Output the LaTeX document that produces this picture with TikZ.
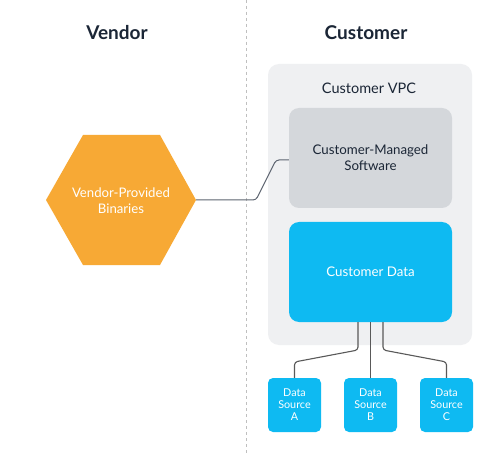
\documentclass[tikz,border=0pt]{standalone}
\usepackage{fontspec}
\setmainfont{Lato}
\begin{document}
\begin{tikzpicture}[x=1pt,y=-1pt,
  heading/.style={font=\fontsize{19}{21}\selectfont\bfseries, text=headc},
  bigbox/.style={rounded corners=10pt, minimum width=163pt, minimum height=100pt, inner sep=0pt, font=\fontsize{13.3}{16}\selectfont, align=center},
  srcbox/.style={rounded corners=5pt, fill=cdata, minimum width=53pt, minimum height=54pt, inner sep=0pt, text=white, font=\fontsize{10.8}{12}\selectfont, align=center},
  link/.style={gray!70!black, line width=1.1pt, rounded corners=3pt},
]
\definecolor{hexorange}{HTML}{F7A935}
\definecolor{cdata}{HTML}{0EBAF2}
\definecolor{vpcgray}{HTML}{EFF0F2}
\definecolor{softgray}{HTML}{D4D7DB}
\definecolor{headc}{HTML}{1B2636}
\definecolor{linec}{HTML}{5D6470}
\useasboundingbox (0,0) rectangle (500,454);
\fill[white] (0,0) rectangle (500,454);
% divider
\draw[gray!50, dashed, line width=0.8pt] (246,0) -- (246,454);
% headings
\node[heading] (hv) at (117,33) {Vendor};
\node[heading] (hc) at (366,33) {Customer};
% VPC
\node[rounded corners=11pt, fill=vpcgray, minimum width=204pt, minimum height=281pt, inner sep=0pt] (vpc) at (370,204.5) {};
\node[font=\fontsize{14.5}{16}\selectfont, text=headc] (vpcl) at (369,88) {Customer VPC};
% software
\node[bigbox, fill=softgray, text=headc] (soft) at (370.5,158) {Customer-Managed\\Software};
% data
\node[bigbox, fill=cdata, text=white] (data) at (370.5,272) {Customer Data};
% hexagon
\fill[hexorange] (46,200) -- (83,135) -- (160,135) -- (196,200) -- (160,265) -- (83,265) -- cycle;
\coordinate (hexr) at (196,200);
\node[text=white, font=\fontsize{13.2}{16}\selectfont, align=center] (hex) at (121,201) {Vendor-Provided\\Binaries};
% data sources
\node[srcbox] (sa) at (294.5,405) {Data\\Source\\A};
\node[srcbox] (sb) at (370.5,405) {Data\\Source\\B};
\node[srcbox] (sc) at (446.5,405) {Data\\Source\\C};
% connectors
\draw[linec, line width=1pt, rounded corners=3pt] (hexr) -- (256,200) -- (276,160) -- (soft.west |- 0,160);
\draw[link] (358,322) -- (358,350) -- (sa.north |- 0,362) -- (sa.north);
\draw[link] (data.south) -- (sb.north);
\draw[link] (383,322) -- (383,350) -- (sc.north |- 0,362) -- (sc.north);
\end{tikzpicture}
\end{document}
